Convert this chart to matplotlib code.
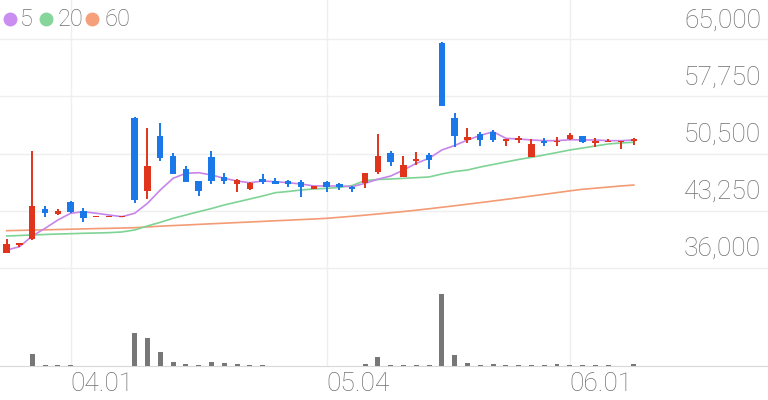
import matplotlib.pyplot as plt
from matplotlib.lines import Line2D
from matplotlib import transforms

plt.rcParams['font.family'] = ['Roboto', 'DejaVu Sans']

# daily candles (open, high, low, close)
opens = [37950, 38900, 39650, 43500, 42850, 44400, 43250, 42450, 42450, 42450,
         55000, 45800, 52750, 50200, 48500, 47050, 50100, 47600, 46650, 46000,
         47300, 47100, 47050, 46950, 46000, 46850, 46650, 46300, 46750, 48200,
         50650, 47600, 49600, 50350, 64550, 55050, 52250, 53000, 53300, 52150,
         52250, 50100, 52150, 51950, 52300, 52750, 51900, 51950, 52000, 52050]
highs = [39750, 39200, 50900, 43850, 43450, 44500, 43600, 42450, 42450, 42450,
         55100, 53700, 54450, 50600, 48950, 47050, 50900, 48000, 47250, 46900,
         47900, 47400, 47150, 47150, 46450, 47050, 46750, 46400, 48100, 53000,
         50850, 50200, 50700, 50550, 64650, 55700, 53700, 53300, 53500, 52350,
         52800, 52350, 52450, 52650, 53150, 52750, 52550, 52350, 52150, 52450]
lows = [37950, 38700, 39500, 42450, 42750, 42950, 41900, 42450, 42450, 42450,
        44200, 44750, 49600, 47900, 46850, 45150, 46650, 46650, 45650, 45900,
        46600, 46650, 46300, 45050, 46000, 45700, 45900, 45700, 46200, 47900,
        48950, 47600, 49050, 48500, 56500, 51400, 51800, 51450, 51950, 51500,
        51800, 50050, 51500, 51450, 52250, 51800, 51400, 51950, 51100, 51600]
closes = [39050, 39200, 43900, 42950, 43250, 43150, 42300, 42450, 42450, 42450,
          44650, 48950, 49900, 47950, 46950, 45800, 47050, 47100, 47150, 46750,
          46900, 46650, 46650, 46300, 46450, 46250, 46250, 46000, 48000, 50250,
          49500, 49050, 49800, 49700, 56550, 52750, 52600, 52250, 52250, 52350,
          52550, 51750, 51800, 52100, 52850, 52000, 52100, 52150, 52150, 52350]
volumes = [2, 2, 117, 10, 8, 10, 5, 0, 0, 0,
           327, 277, 137, 37, 17, 10, 43, 27, 17, 10,
           10, 5, 5, 5, 5, 5, 5, 5, 23, 87,
           7, 13, 10, 7, 717, 110, 30, 13, 20, 13,
           7, 10, 10, 20, 10, 7, 13, 10, 5, 17]

# moving averages as drawn on the chart
ma5 = [38290, 38710, 40070, 41040, 42100, 42950, 43150, 42950, 42730, 42520,
       42950, 44210, 45900, 47380, 48020, 48090, 47800, 47380, 47040, 46820,
       47040, 46950, 46820, 46660, 46410, 46410, 46410, 46320, 46750, 47260,
       47670, 48430, 49280, 49920, 50970, 51540, 52240, 52810, 53290, 52450,
       52360, 52240, 52150, 52150, 52270, 52240, 52240, 52150, 52150, 52240]
ma20 = [40070, 40130, 40200, 40260, 40320, 40360, 40410, 40450, 40490, 40580,
        40830, 41340, 41800, 42310, 42730, 43150, 43550, 44000, 44380, 44760,
        45140, 45560, 45710, 45900, 46030, 46110, 46220, 46470, 47100, 47230,
        47290, 47380, 47460, 47550, 47930, 48240, 48430, 48810, 49130, 49450,
        49770, 50040, 50340, 50650, 50970, 51220, 51480, 51730, 51860, 51950]
ma60 = [40740, 40780, 40820, 40850, 40890, 40930, 40970, 41010, 41040, 41080,
        41120, 41220, 41310, 41390, 41460, 41540, 41620, 41690, 41770, 41840,
        41920, 42000, 42070, 42150, 42220, 42310, 42440, 42570, 42710, 42860,
        43010, 43170, 43340, 43520, 43710, 43900, 44100, 44300, 44500, 44710,
        44920, 45140, 45350, 45570, 45790, 45990, 46130, 46270, 46410, 46530]

price_ticks = [36000, 43250, 50500, 57750, 65000]
date_idx = [5, 25, 44]
date_labels = ['04.01', '05.04', '06.01']

UP = '#e0341c'
DOWN = '#1a78e8'
GRID = '#efefef'
TXT = '#707070'

fig = plt.figure(figsize=(7.68, 4.0), dpi=100)
ax = fig.add_axes([0, 0.3, 1, 0.7])
axv = fig.add_axes([0, 0.085, 1, 0.215], sharex=ax)

x = list(range(len(closes)))

# moving averages
ax.plot(x, ma60, color='#f39b74', lw=1.2, zorder=2)
ax.plot(x, ma20, color='#7fd395', lw=1.2, zorder=2)
ax.plot(x, ma5, color='#c884ea', lw=1.2, zorder=2)

# candles
for i in x:
    o, h, l, c = opens[i], highs[i], lows[i], closes[i]
    col = UP if c >= o else DOWN
    ax.vlines(i, l, h, color=col, lw=1.4, zorder=3)
    body = max(abs(c - o), 170)
    ax.bar(i, body, bottom=min(o, c), width=0.5, color=col, zorder=4)

# volume
axv.bar(x, volumes, width=0.38, color='#777777', zorder=3)

ax.set_xlim(-0.523, 59.48)
ax.set_ylim(34491, 69981)
axv.set_ylim(0, 860)

for a in (ax, axv):
    for s in a.spines.values():
        s.set_visible(False)
    a.tick_params(left=False, bottom=False, labelleft=False, labelbottom=False)
    for d in date_idx:
        a.axvline(d, color=GRID, lw=1, zorder=0)
axv.spines['bottom'].set_visible(True)
axv.spines['bottom'].set_color('#d8d8d8')

for p in price_ticks:
    ax.axhline(p, color=GRID, lw=1, zorder=0)
    tr = transforms.blended_transform_factory(fig.transFigure, ax.transData)
    tr = transforms.offset_copy(tr, fig=fig, y=19, units='dots')
    ax.text(761 / 768, p, f'{p:,}', transform=tr, ha='right', va='center',
            fontsize=19, color=TXT, fontweight='light')

trd = transforms.blended_transform_factory(axv.transData, fig.transFigure)
for d, lab in zip(date_idx, date_labels):
    axv.text(d, 1 - 384 / 400, lab, transform=trd, ha='left', va='center',
             fontsize=19, color=TXT, fontweight='light')

# legend
leg = [('5', '#c98ef0', 10, 20), ('20', '#86d69b', 46, 58), ('60', '#f5a07a', 92, 104)]
for lab, col, dx, tx in leg:
    fig.add_artist(Line2D([dx / 768], [1 - 19 / 400], marker='o', ms=9, color=col,
                          lw=0, transform=fig.transFigure))
    fig.text(tx / 768, 1 - 19 / 400, lab, ha='left', va='center', fontsize=17,
             color=TXT, fontweight='light')

fig.savefig('out.png', dpi=100)
